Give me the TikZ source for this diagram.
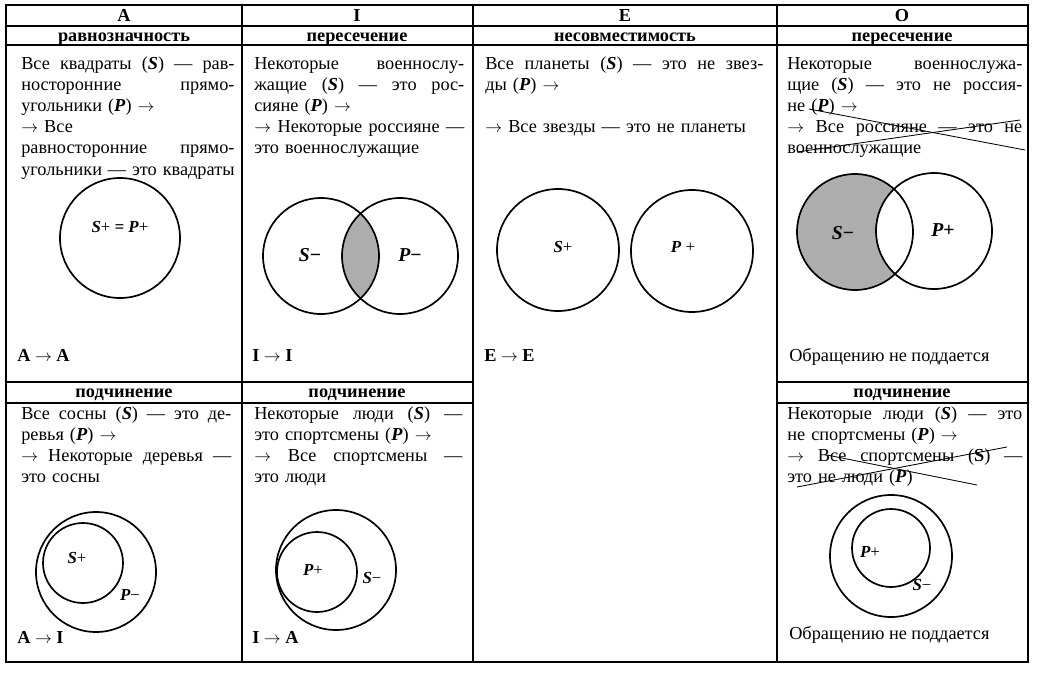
\documentclass[tikz,border=0pt]{standalone}
\usepackage{fontspec}
\setmainfont{Liberation Serif}
\usepackage{tikz}

\newcommand{\bS}{\textbf{\textit{S}}}
\newcommand{\bP}{\textbf{\textit{P}}}
\newcommand{\ar}{$\rightarrow$}
\newcommand{\jl}[1]{\makebox[\hsize][s]{\spaceskip=0pt\xspaceskip=0pt #1}}

\tikzset{
  grid line/.style={line width=1pt},
  venn/.style={line width=1.2pt},
  greyfill/.style={fill=black!32},
  hdr/.style={font=\fontsize{13}{15}\selectfont\bfseries, anchor=base, inner sep=0pt},
  cell/.style={anchor=base west, inner sep=0pt, align=left, font=\fontsize{13}{15.1}\selectfont},
  lbl/.style={font=\fontsize{14}{16}\selectfont\bfseries\itshape, inner sep=0pt},
  small lbl/.style={font=\fontsize{12}{14}\selectfont\bfseries\itshape, inner sep=0pt},
  conv/.style={anchor=base west, inner sep=0pt, font=\fontsize{13}{15}\selectfont\bfseries},
  strike/.style={line width=0.6pt}
}

\begin{document}
\begin{tikzpicture}[x=0.025cm,y=-0.025cm]
\useasboundingbox (0,0) rectangle (1039,672);
% table
\draw[grid line] (6,5) rectangle (1028,662);
\foreach \yy in {26,45} \draw[grid line] (6,\yy) -- (1028,\yy);
\foreach \yy in {382,403} {
  \draw[grid line] (6,\yy) -- (473,\yy);
  \draw[grid line] (777,\yy) -- (1028,\yy);
}
\foreach \xx in {242,473,777} \draw[grid line] (\xx,5) -- (\xx,662);

\node[hdr] (hA) at (124,21) {A};
\node[hdr] (hI) at (357,21) {I};
\node[hdr] (hE) at (625,21) {E};
\node[hdr] (hO) at (902,21) {O};
\node[hdr] (rA) at (124,41) {равнозначность};
\node[hdr] (rI) at (357,41) {пересечение};
\node[hdr] (rE) at (625,41) {несовместимость};
\node[hdr] (rO) at (902,41) {пересечение};
\node[hdr] (pA) at (124,397) {подчинение};
\node[hdr] (pI) at (357,397) {подчинение};
\node[hdr] (pO) at (902,397) {подчинение};

% upper cells
\node[cell, text width=5.33cm] (tA) at (21,69) {%
\jl{Все квадраты (\bS) — рав-}\\
\jl{носторонние прямо-}\\
угольники (\bP) \ar\\
\ar{} Все\\
\jl{равносторонние прямо-}\\
\jl{угольники — это квадраты}};
\node[cell, text width=5.25cm] (tI) at (254,69) {%
\jl{Некоторые военнослу-}\\
\jl{жащие (\bS) — это рос-}\\
сияне (\bP) \ar\\
\jl{\ar{} Некоторые россияне —}\\
это военнослужащие};
\node[cell, text width=6.95cm] (tE) at (485,69) {%
\jl{Все планеты (\bS) — это не звез-}\\
ды (\bP) \ar\\
\mbox{}\\
\ar{} Все звезды — это не планеты};
\node[cell, text width=5.875cm] (tO) at (787,69) {%
\jl{Некоторые военнослужа-}\\
\jl{щие (\bS) — это не россия-}\\
не (\bP) \ar\\
\jl{\ar{} Все россияне — это не}\\
военнослужащие};
\draw[strike] (809,109) -- (1025,150);
\draw[strike] (797,152) -- (1020,120);

% lower cells
\node[cell, text width=5.25cm] (bA) at (21,419) {%
\jl{Все сосны (\bS) — это де-}\\
ревья (\bP) \ar\\
\jl{\ar{} Некоторые деревья —}\\
это сосны};
\node[cell, text width=5.2cm] (bI) at (254,419) {%
\jl{Некоторые люди (\bS) —}\\
это спортсмены (\bP) \ar\\
\jl{\ar{} Все спортсмены —}\\
это люди};
\node[cell, text width=5.875cm] (bO) at (787,419) {%
\jl{Некоторые люди (\bS) — это}\\
не спортсмены (\bP) \ar\\
\jl{\ar{} Все спортсмены (\textbf{S}) —}\\
это не люди (\bP)};
\draw[strike] (827,455) -- (977,485);
\draw[strike] (797,487) -- (1007,447);

% A: equivalence
\draw[venn] (120,238) circle (60);
\node[small lbl] (sA) at (120,227) {S\textnormal{+} = P\textnormal{+}};

% I: intersection
\begin{scope}
  \clip (321,256) circle (58);
  \fill[greyfill] (400,256) circle (58);
\end{scope}
\draw[venn] (321,256) circle (58);
\draw[venn] (400,256) circle (58);
\node[lbl] (sI) at (310,255) {S\textbf{\textup{−}}};
\node[lbl] (pI2) at (410,255) {P\textbf{\textup{−}}};

% E: incompatibility
\draw[venn] (558,250) circle (61);
\draw[venn] (692,251) circle (61);
\node[small lbl] (sE) at (563,247) {S\textnormal{+}};
\node[small lbl] (pE) at (683,247) {P \textnormal{+}};

% O: intersection, S- shaded
\fill[greyfill] (855,232) circle (58);
\begin{scope}
  \clip (855,232) circle (58);
  \fill[white] (934,231) circle (58);
\end{scope}
\draw[venn] (855,232) circle (58);
\draw[venn] (934,231) circle (58);
\node[lbl] (sO) at (843,233) {S\textbf{\textup{−}}};
\node[lbl] (pO2) at (943,230) {P\textbf{\textup{+}}};

% lower A: subordination
\draw[venn] (96,572) circle (60);
\draw[venn] (83,563) circle (40);
\node[small lbl] (sA2) at (77,558) {S\textnormal{+}};
\node[small lbl] (pA2) at (130,595) {P\textnormal{−}};

% lower I
\draw[venn] (336,570) circle (60);
\draw[venn] (317,572) circle (40);
\node[small lbl] (pI3) at (313,570) {P\textnormal{+}};
\node[small lbl] (sI3) at (372,578) {S\textnormal{−}};

% lower O
\draw[venn] (891,556) circle (61);
\draw[venn] (891,548) circle (39);
\node[small lbl] (pO3) at (870,552) {P\textnormal{+}};
\node[small lbl] (sO3) at (922,585) {S\textnormal{−}};

% conversions
\node[conv] (cA) at (17,361) {A \ar{} A};
\node[conv] (cI) at (252,361) {I \ar{} I};
\node[conv] (cE) at (484,361) {E \ar{} E};
\node[conv, font=\fontsize{13}{15}\selectfont] (cO) at (789,361) {Обращению не поддается};
\node[conv] (cA2) at (17,643) {A \ar{} I};
\node[conv] (cI2) at (252,643) {I \ar{} A};
\node[conv, font=\fontsize{13}{15}\selectfont] (cO2) at (789,639) {Обращению не поддается};
\end{tikzpicture}
\end{document}
